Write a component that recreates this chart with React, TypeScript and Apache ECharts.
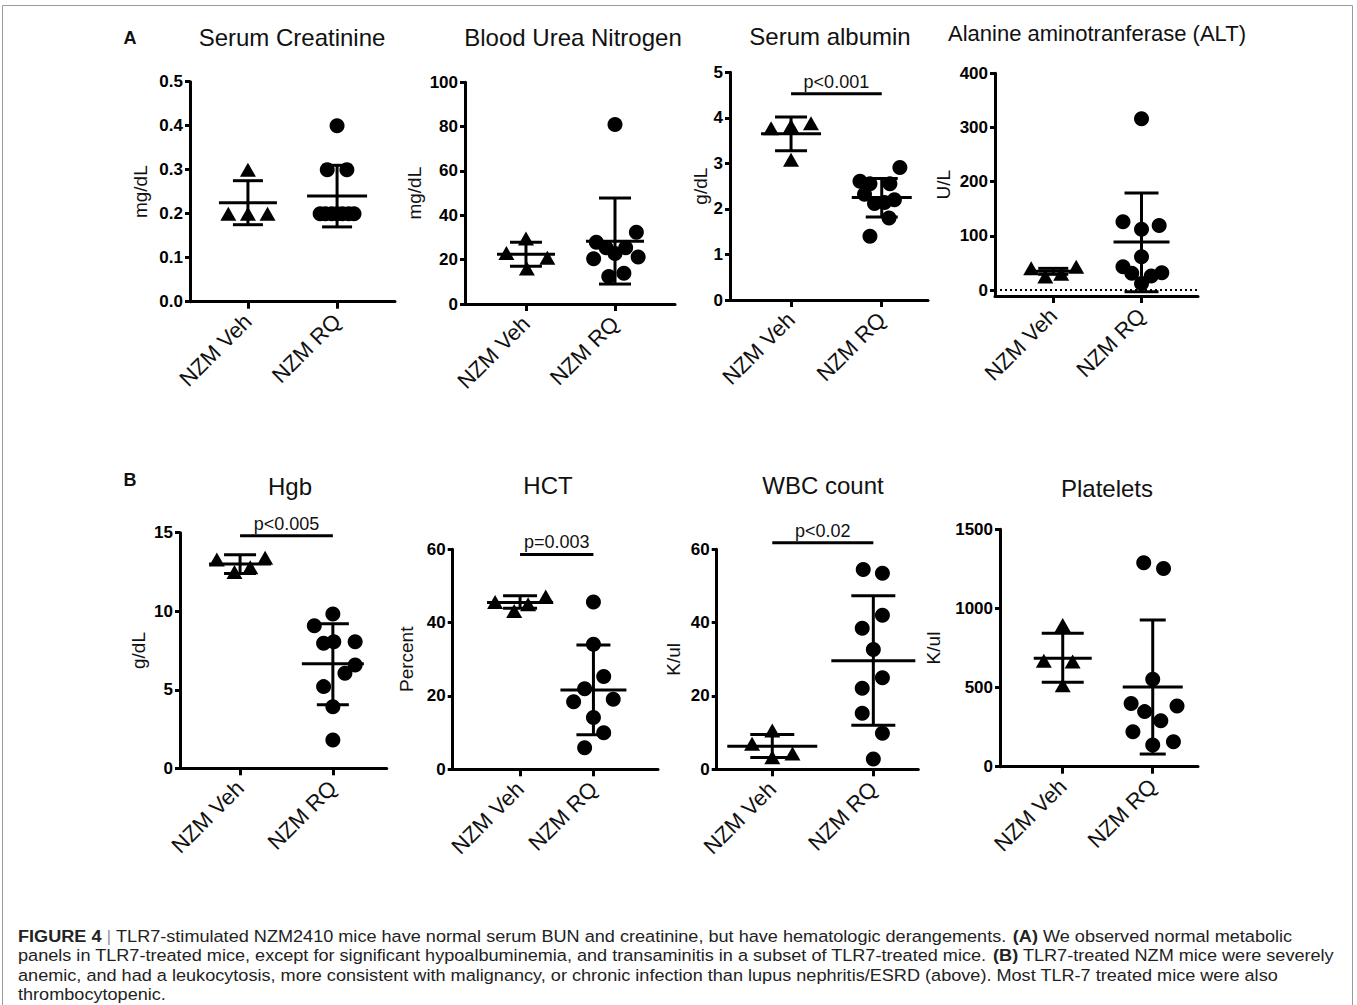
import React, { useEffect, useRef } from "react";
import * as echarts from "echarts";

const categories = ["NZM Veh", "NZM RQ"];

// (A) Serum Creatinine, mg/dL
const creatVeh = [0.3, 0.2, 0.2, 0.2];
const creatVehJitter = [0, -0.22, 0, 0.22];
const creatRq = [0.4, 0.3, 0.3, 0.2, 0.2, 0.2, 0.2, 0.2, 0.2, 0.2];
const creatRqJitter = [0, -0.11, 0.11, -0.19, -0.13, -0.06, 0, 0.06, 0.13, 0.19];
const creatMean = [0.225, 0.24];
const creatSdLow = [0.175, 0.17];
const creatSdHigh = [0.275, 0.31];
const creatTicks = [0, 0.1, 0.2, 0.3, 0.4, 0.5];

// (A) Blood Urea Nitrogen, mg/dL
const bunVeh = [23, 29.6, 20.9, 16];
const bunVehJitter = [-0.22, 0, 0.24, 0.01];
const bunRq = [81, 27.9, 25.4, 22.8, 25.4, 32.4, 20.4, 21.2, 12.4, 13.9];
const bunRqJitter = [0, -0.21, -0.1, 0, 0.12, 0.24, -0.24, 0.26, -0.07, 0.1];
const bunMean = [22.4, 28.3];
const bunSdLow = [17, 9];
const bunSdHigh = [27.9, 47.8];
const bunTicks = [0, 20, 40, 60, 80, 100];

// (A) Serum albumin, g/dL
const albVeh = [3.77, 3.82, 3.88, 3.08];
const albVehJitter = [-0.22, 0, 0.22, 0];
const albRq = [2.91, 2.61, 2.55, 2.55, 2.32, 2.12, 2.14, 2.2, 1.8, 1.4];
const albRqJitter = [0.2, -0.24, -0.13, 0.09, -0.19, -0.08, 0.03, 0.14, 0.08, -0.13];
const albMean = [3.65, 2.25];
const albSdLow = [3.28, 1.82];
const albSdHigh = [4.02, 2.67];
const albTicks = [0, 1, 2, 3, 4, 5];
const albPText = "p<0.001";
const albPLevel = 4.53;

// (A) Alanine aminotransferase, U/L
const altVeh = [40, 25, 30, 43];
const altVehJitter = [-0.25, -0.09, 0.09, 0.26];
const altRq = [316, 126, 119, 112, 61.5, 43, 31, 26, 32, 12];
const altRqJitter = [0, -0.21, 0.2, 0, 0, -0.21, -0.11, 0.11, 0.23, 0];
const altMean = [34.5, 88.6];
const altSdLow = [29, -3];
const altSdHigh = [40, 179];
const altTicks = [0, 100, 200, 300, 400];

// (B) Hgb, g/dL
const hgbVeh = [13.3, 12.5, 12.8, 13.4];
const hgbVehJitter = [-0.25, -0.06, 0.11, 0.27];
const hgbRq = [9.08, 9.82, 7.96, 8.06, 8.06, 6.58, 6.05, 5.2, 3.92, 1.8];
const hgbRqJitter = [-0.2, 0, -0.1, 0.01, 0.24, 0.24, 0.13, -0.1, 0, 0];
const hgbMean = [13.0, 6.65];
const hgbSdLow = [12.4, 4.05];
const hgbSdHigh = [13.6, 9.2];
const hgbTicks = [0, 5, 10, 15];
const hgbPText = "p<0.005";
const hgbPLevel = 14.8;

// (B) HCT, Percent
const hctVeh = [45.6, 43.2, 45, 47.1];
const hctVehJitter = [-0.34, -0.08, 0.11, 0.35];
const hctRq = [45.6, 34.1, 25.3, 22, 18.4, 19.1, 14.1, 10, 5.9];
const hctRqJitter = [0, 0, 0.14, -0.12, -0.27, 0.27, 0, 0.14, -0.12];
const hctMean = [45.5, 21.6];
const hctSdLow = [43.9, 9.4];
const hctSdHigh = [47.3, 33.9];
const hctTicks = [0, 20, 40, 60];
const hctPText = "p=0.003";
const hctPLevel = 58.6;

// (B) WBC count, K/ul
const wbcVeh = [7.0, 10.6, 3.3, 4.3];
const wbcVehJitter = [-0.2, 0, 0, 0.2];
const wbcRq = [54.5, 53.5, 42, 38.5, 32.7, 25, 22.1, 15.3, 9.8, 2.8];
const wbcRqJitter = [-0.1, 0.09, 0.09, -0.11, 0, 0.09, -0.11, -0.11, 0.09, 0];
const wbcMean = [6.3, 29.6];
const wbcSdLow = [3.2, 12];
const wbcSdHigh = [9.5, 47.3];
const wbcTicks = [0, 20, 40, 60];
const wbcPText = "p<0.02";
const wbcPLevel = 61.8;

// (B) Platelets, K/ul
const pltVeh = [895, 670, 665, 515];
const pltVehJitter = [0, -0.21, 0.11, 0];
const pltRq = [1289, 1253, 552, 400, 348, 383, 291, 221, 137, 158];
const pltRqJitter = [-0.1, 0.12, 0, -0.24, -0.09, 0.27, 0.09, -0.22, 0, 0.23];
const pltMean = [686, 503];
const pltSdLow = [533, 80];
const pltSdHigh = [843, 927];
const pltTicks = [0, 500, 1000, 1500];

const panels = [
  { title: "Serum Creatinine", unit: "mg/dL", veh: creatVeh, vehJ: creatVehJitter, rq: creatRq, rqJ: creatRqJitter, mean: creatMean, lo: creatSdLow, hi: creatSdHigh, ticks: creatTicks, dec: 1 },
  { title: "Blood Urea Nitrogen", unit: "mg/dL", veh: bunVeh, vehJ: bunVehJitter, rq: bunRq, rqJ: bunRqJitter, mean: bunMean, lo: bunSdLow, hi: bunSdHigh, ticks: bunTicks, dec: 0 },
  { title: "Serum albumin", unit: "g/dL", veh: albVeh, vehJ: albVehJitter, rq: albRq, rqJ: albRqJitter, mean: albMean, lo: albSdLow, hi: albSdHigh, ticks: albTicks, dec: 0, pText: albPText, pLevel: albPLevel },
  { title: "Alanine aminotranferase (ALT)", unit: "U/L", veh: altVeh, vehJ: altVehJitter, rq: altRq, rqJ: altRqJitter, mean: altMean, lo: altSdLow, hi: altSdHigh, ticks: altTicks, dec: 0, zeroLine: true },
  { title: "Hgb", unit: "g/dL", veh: hgbVeh, vehJ: hgbVehJitter, rq: hgbRq, rqJ: hgbRqJitter, mean: hgbMean, lo: hgbSdLow, hi: hgbSdHigh, ticks: hgbTicks, dec: 0, pText: hgbPText, pLevel: hgbPLevel },
  { title: "HCT", unit: "Percent", veh: hctVeh, vehJ: hctVehJitter, rq: hctRq, rqJ: hctRqJitter, mean: hctMean, lo: hctSdLow, hi: hctSdHigh, ticks: hctTicks, dec: 0, pText: hctPText, pLevel: hctPLevel },
  { title: "WBC count", unit: "K/ul", veh: wbcVeh, vehJ: wbcVehJitter, rq: wbcRq, rqJ: wbcRqJitter, mean: wbcMean, lo: wbcSdLow, hi: wbcSdHigh, ticks: wbcTicks, dec: 0, pText: wbcPText, pLevel: wbcPLevel },
  { title: "Platelets", unit: "K/ul", veh: pltVeh, vehJ: pltVehJitter, rq: pltRq, rqJ: pltRqJitter, mean: pltMean, lo: pltSdLow, hi: pltSdHigh, ticks: pltTicks, dec: 0 },
];

// layout (pixels) per panel
const layouts: any[] = [
  { x0: 190, x1: 395, yT: 81.7, yB: 301.7, xMin: 0.35, xMax: 2.65, nameGap: 40, meanHalf: [29, 30], capHalf: [15, 15], tx: 292, ty: 37, ts: 24 },
  { x0: 465, x1: 675, yT: 82.3, yB: 304, xMin: 0.315, xMax: 2.674, nameGap: 41, meanHalf: [29, 29], capHalf: [16, 16], tx: 573, ty: 37, ts: 24 },
  { x0: 730, x1: 928, yT: 72.3, yB: 300, xMin: 0.327, xMax: 2.51, nameGap: 20, meanHalf: [30, 30], capHalf: [16, 16], tx: 830, ty: 36, ts: 24 },
  { x0: 995, x1: 1198, yT: 73.3, yB: 296, xMin: 0.34, xMax: 2.64, yMin: -11, nameGap: 42, meanHalf: [23, 28], capHalf: [15, 17], tx: 1097, ty: 33, ts: 22 },
  { x0: 180, x1: 386.7, yT: 532.7, yB: 768.3, xMin: 0.353, xMax: 2.58, nameGap: 32, meanHalf: [31, 31], capHalf: [16, 16], tx: 290, ty: 486, ts: 24 },
  { x0: 452.7, x1: 658, yT: 549.3, yB: 769.3, xMin: 0.082, xMax: 2.88, nameGap: 37, meanHalf: [33, 33], capHalf: [17, 17], tx: 548, ty: 485, ts: 24 },
  { x0: 716.7, x1: 918.3, yT: 549.3, yB: 769.3, xMin: 0.45, xMax: 2.445, nameGap: 34, meanHalf: [45, 42], capHalf: [22, 22], tx: 823, ty: 485, ts: 24 },
  { x0: 1000, x1: 1198, yT: 529.3, yB: 766.7, xMin: 0.303, xMax: 2.503, nameGap: 57, meanHalf: [29, 30], capHalf: [21, 13], tx: 1107, ty: 488, ts: 24 },
];

const FONT = "'Liberation Sans', Arial, Helvetica, sans-serif";
const W = 1357;
const H = 1005;

const captionLines: [string, boolean][][] = [
  [["FIGURE 4", true], [" | ", false], ["TLR7-stimulated NZM2410 mice have normal serum BUN and creatinine, but have hematologic derangements. ", false], ["(A)", true], [" We observed normal metabolic", false]],
  [["panels in TLR7-treated mice, except for significant hypoalbuminemia, and transaminitis in a subset of TLR7-treated mice. ", false], ["(B)", true], [" TLR7-treated NZM mice were severely", false]],
  [["anemic, and had a leukocytosis, more consistent with malignancy, or chronic infection than lupus nephritis/ESRD (above). Most TLR-7 treated mice were also", false]],
  [["thrombocytopenic.", false]],
];
const CAP_SIZE = 17;
const CAP_TARGET_WIDTH = 1275;

function measureLine(segs: [string, boolean][], size: number) {
  const ctx = document.createElement("canvas").getContext("2d");
  if (!ctx) return CAP_TARGET_WIDTH;
  let w = 0;
  for (const [t, b] of segs) {
    ctx.font = `${b ? "bold " : ""}${size}px ${FONT}`;
    w += ctx.measureText(t).width;
  }
  return w;
}

function buildOption() {
  const grid: any[] = [];
  const xAxis: any[] = [];
  const yAxis: any[] = [];
  const series: any[] = [];
  const graphic: any[] = [];

  panels.forEach((p: any, i) => {
    const L = layouts[i];
    grid.push({ left: L.x0, width: L.x1 - L.x0, top: L.yT, height: L.yB - L.yT, containLabel: false });
    xAxis.push({
      type: "value",
      gridIndex: i,
      min: L.xMin,
      max: L.xMax,
      splitLine: { show: false },
      axisLine: { show: true, onZero: false, lineStyle: { color: "#000", width: 3 } },
      axisTick: { show: true, customValues: [1, 2], length: 7, lineStyle: { color: "#000", width: 3 } },
      axisLabel: {
        show: true,
        customValues: [1, 2],
        rotate: 45,
        margin: 16,
        formatter: (v: number) => categories[Math.round(v) - 1] ?? "",
        fontSize: 22,
        color: "#111",
        fontFamily: FONT,
      },
    });
    yAxis.push({
      type: "value",
      gridIndex: i,
      min: L.yMin ?? p.ticks[0],
      max: p.ticks[p.ticks.length - 1],
      splitLine: { show: false },
      axisLine: { show: true, onZero: false, lineStyle: { color: "#000", width: 3 } },
      axisTick: { show: true, customValues: p.ticks, length: 5, lineStyle: { color: "#000", width: 3 } },
      axisLabel: {
        show: true,
        customValues: p.ticks,
        formatter: (v: number) => v.toFixed(p.dec),
        fontSize: 17,
        fontWeight: "bold",
        color: "#000",
        fontFamily: FONT,
        margin: 7,
      },
      name: p.unit,
      nameLocation: "middle",
      nameGap: L.nameGap,
      nameTextStyle: { fontSize: 19, color: "#111", fontFamily: FONT },
    });

    const vehSeries: any = {
      type: "scatter",
      xAxisIndex: i,
      yAxisIndex: i,
      symbol: "triangle",
      symbolSize: [16, 14],
      itemStyle: { color: "#000", opacity: 1 },
      emphasis: { disabled: true },
      data: p.veh.map((v: number, k: number) => [1 + p.vehJ[k], v]),
      z: 2,
    };
    if (p.zeroLine) {
      vehSeries.markLine = {
        silent: true,
        symbol: ["none", "none"],
        label: { show: false },
        lineStyle: { type: [2, 3], color: "#000", width: 2, opacity: 1 },
        data: [{ yAxis: 0 }],
      };
    }
    series.push(vehSeries);
    series.push({
      type: "scatter",
      xAxisIndex: i,
      yAxisIndex: i,
      symbol: "circle",
      symbolSize: 15,
      itemStyle: { color: "#000", opacity: 1 },
      emphasis: { disabled: true },
      data: p.rq.map((v: number, k: number) => [2 + p.rqJ[k], v]),
      z: 2,
    });

    series.push({
      type: "custom",
      xAxisIndex: i,
      yAxisIndex: i,
      z: 3,
      clip: false,
      data: [0, 1].map((g) => [g + 1, p.mean[g], p.lo[g], p.hi[g]]),
      encode: { x: 0, y: [1, 2, 3] },
      renderItem: (params: any, api: any) => {
        const g = api.value(0);
        const c = api.coord([g, api.value(1)]);
        const cl = api.coord([g, api.value(2)]);
        const ch = api.coord([g, api.value(3)]);
        const mh = L.meanHalf[params.dataIndex];
        const cp = L.capHalf[params.dataIndex];
        const st = { stroke: "#000", lineWidth: 3, fill: null };
        return {
          type: "group",
          children: [
            { type: "line", shape: { x1: c[0] - mh, y1: c[1], x2: c[0] + mh, y2: c[1] }, style: st },
            { type: "line", shape: { x1: cl[0], y1: cl[1], x2: ch[0], y2: ch[1] }, style: st },
            { type: "line", shape: { x1: cl[0] - cp, y1: cl[1], x2: cl[0] + cp, y2: cl[1] }, style: st },
            { type: "line", shape: { x1: ch[0] - cp, y1: ch[1], x2: ch[0] + cp, y2: ch[1] }, style: st },
          ],
        };
      },
    });

    if (p.pText) {
      series.push({
        type: "custom",
        xAxisIndex: i,
        yAxisIndex: i,
        z: 3,
        clip: false,
        data: [[1, 2, p.pLevel]],
        encode: { x: [0, 1], y: 2 },
        renderItem: (params: any, api: any) => {
          const a = api.coord([api.value(0), api.value(2)]);
          const b = api.coord([api.value(1), api.value(2)]);
          return {
            type: "group",
            children: [
              { type: "line", shape: { x1: a[0], y1: a[1], x2: b[0], y2: b[1] }, style: { stroke: "#000", lineWidth: 3 } },
              {
                type: "text",
                style: {
                  text: p.pText,
                  x: (a[0] + b[0]) / 2,
                  y: a[1] - 3,
                  align: "center",
                  verticalAlign: "bottom",
                  textAlign: "center",
                  textVerticalAlign: "bottom",
                  fontSize: 18,
                  fontFamily: FONT,
                  fill: "#111",
                },
              },
            ],
          };
        },
      });
    }

    graphic.push({
      type: "text",
      x: L.tx,
      y: L.ty,
      style: {
        text: p.title,
        textAlign: "center",
        textVerticalAlign: "middle",
        align: "center",
        verticalAlign: "middle",
        fontSize: L.ts,
        fontFamily: FONT,
        fill: "#111",
      },
    });
  });

  // panel letters
  [["A", 130, 38], ["B", 130, 480]].forEach(([t, x, y]) => {
    graphic.push({
      type: "text",
      x,
      y,
      style: { text: t, textAlign: "center", textVerticalAlign: "middle", align: "center", verticalAlign: "middle", fontSize: 18, fontWeight: "bold", fontFamily: FONT, fill: "#111" },
    });
  });

  // frame
  graphic.push({
    type: "rect",
    shape: { x: 2.5, y: 5.5, width: 1350, height: 1010 },
    style: { fill: "none", stroke: "#9a9a9a", lineWidth: 1 },
    silent: true,
  });

  // caption
  const scale = CAP_TARGET_WIDTH / measureLine(captionLines[0], CAP_SIZE);
  const lineY = [936, 955.5, 975, 994.5];
  captionLines.forEach((segs, li) => {
    const text = segs
      .map(([t, b]) => {
        if (t === " | ") return " {g||} ";
        return b ? `{b|${t}}` : t;
      })
      .join("");
    graphic.push({
      type: "text",
      x: 18,
      y: lineY[li],
      scaleX: scale,
      style: {
        text,
        x: 0,
        y: 0,
        textVerticalAlign: "middle",
        verticalAlign: "middle",
        fontSize: CAP_SIZE,
        fontFamily: FONT,
        fill: "#222",
        rich: {
          b: { fontSize: CAP_SIZE, fontFamily: FONT, fontWeight: "bold", fill: "#222" },
          g: { fontSize: CAP_SIZE, fontFamily: FONT, fill: "#999" },
        },
      },
    });
  });

  return {
    animation: false,
    backgroundColor: "#fff",
    grid,
    xAxis,
    yAxis,
    series,
    graphic,
  };
}

export default function App() {
  const ref = useRef<HTMLDivElement>(null);
  useEffect(() => {
    if (!ref.current) return;
    const chart = echarts.init(ref.current, null, { renderer: "svg", width: W, height: H });
    chart.setOption(buildOption() as any);
    return () => chart.dispose();
  }, []);
  return (
    <div
      ref={ref}
      style={{ position: "absolute", left: 0, top: 0, width: W, height: H, background: "#fff" }}
    />
  );
}
